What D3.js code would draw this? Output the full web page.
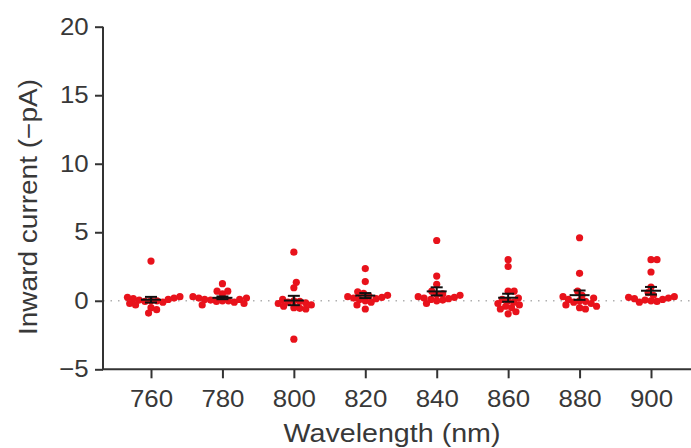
<!DOCTYPE html>
<html>
<head>
<meta charset="utf-8">
<script src="https://cdn.jsdelivr.net/npm/d3@7"></script>
<style>
  html, body { margin: 0; padding: 0; background: #fff; }
  svg { display: block; font-family: "Liberation Sans", Arial, sans-serif; }
</style>
</head>
<body>
<svg id="chart" width="691" height="448"></svg>
<script>
// ---- data ----
const categories = ["760", "780", "800", "820", "840", "860", "880", "900"];
const v760 = [2.9, 0.3, 0.25, 0.2, 0.15, 0.1, 0.05, 0, 0, -0.05, -0.1, -0.2, -0.3, -0.5, -0.65, -0.9];
const v780 = [1.25, 0.7, 0.7, 0.5, 0.3, 0.2, 0.2, 0.1, 0.1, 0.05, 0, 0, -0.05, -0.1, -0.2, -0.3];
const v800 = [3.55, 1.35, 0.95, 0.1, 0, -0.05, -0.1, -0.15, -0.2, -0.3, -0.4, -0.5, -0.55, -0.6, -2.8];
const v820 = [2.35, 1.4, 0.65, 0.55, 0.4, 0.35, 0.3, 0.25, 0.2, 0.15, 0.1, 0, -0.1, -0.3, -0.6];
const v840 = [4.4, 1.8, 1.2, 0.7, 0.5, 0.45, 0.4, 0.3, 0.25, 0.2, 0.15, 0.1, 0.05, 0, -0.2];
const v860 = [3.0, 2.5, 0.7, 0.7, 0.2, 0.1, 0, -0.1, -0.2, -0.3, -0.4, -0.5, -0.6, -0.8, -0.95];
const v880 = [4.6, 2.0, 0.7, 0.4, 0.3, 0.2, 0.1, 0, -0.05, -0.1, -0.2, -0.3, -0.4, -0.5, -0.6];
const v900 = [3.0, 3.0, 2.1, 1.0, 0.6, 0.4, 0.3, 0.25, 0.2, 0.15, 0.1, 0.05, 0, -0.05, -0.1];
const seriesValues = [v760, v780, v800, v820, v840, v860, v880, v900];
const yTickValues = [-5, 0, 5, 10, 15, 20];
const xTitle = "Wavelength (nm)";
const yTitle = "Inward current (\u2212pA)";

// ---- layout ----
const svg = d3.select("#chart");
const axisColor = "#333";
const textColor = "#383838";
const dotColor = "#e8121b";
const r = 3.6;

const y = d3.scaleLinear().domain([-5, 20]).range([369.3, 26.7]);
const x = d3.scalePoint().domain(categories).range([103, 699]).padding(0.672);

// zero reference (dotted)
svg.append("line")
  .attr("x1", 103).attr("x2", 691)
  .attr("y1", y(0)).attr("y2", y(0))
  .attr("stroke", "#b0b0b0").attr("stroke-width", 1.4)
  .attr("stroke-dasharray", "1.5,6");

// beeswarm offsets (dense, overlapping like the reference)
function swarm(values, minDist) {
  const order = values.map((v, i) => ({ v, i, py: y(v) }))
    .sort((a, b) => Math.abs(a.v) - Math.abs(b.v) || a.v - b.v);
  const placed = [];
  const d = minDist;
  order.forEach(p => {
    const cands = [0];
    placed.forEach(q => {
      const dy = p.py - q.py;
      if (Math.abs(dy) < d) {
        const dx = Math.sqrt(d * d - dy * dy);
        cands.push(q.dx + dx + 0.01, q.dx - dx - 0.01);
      }
    });
    cands.sort((a, b) => Math.abs(a) - Math.abs(b) || b - a);
    for (const c of cands) {
      const ok = placed.every(q => {
        const ddx = c - q.dx, ddy = p.py - q.py;
        return ddx * ddx + ddy * ddy >= d * d - 0.05;
      });
      if (ok) { p.dx = c; break; }
    }
    placed.push(p);
  });
  return placed;
}

categories.forEach((cat, gi) => {
  const vals = seriesValues[gi];
  const cx = x(cat);
  const pts = swarm(vals, 6);
  const g = svg.append("g");
  g.selectAll("circle").data(pts).join("circle")
    .attr("cx", p => cx + p.dx)
    .attr("cy", p => p.py)
    .attr("r", r)
    .attr("fill", dotColor);

  const mean = d3.mean(vals);
  const sem = d3.deviation(vals) / Math.sqrt(vals.length);
  const eb = svg.append("g").attr("stroke", "#111").attr("stroke-width", 2);
  eb.append("line").attr("x1", cx - 10).attr("x2", cx + 10).attr("y1", y(mean)).attr("y2", y(mean));
  eb.append("line").attr("x1", cx).attr("x2", cx).attr("y1", y(mean - sem)).attr("y2", y(mean + sem));
  eb.append("line").attr("x1", cx - 6).attr("x2", cx + 6).attr("y1", y(mean + sem)).attr("y2", y(mean + sem));
  eb.append("line").attr("x1", cx - 6).attr("x2", cx + 6).attr("y1", y(mean - sem)).attr("y2", y(mean - sem));
});

// axes
const yAxis = d3.axisLeft(y).tickValues(yTickValues).tickSize(8).tickSizeOuter(0).tickPadding(5);
const gy = svg.append("g").attr("transform", "translate(103,0)").call(yAxis);
const xAxis = d3.axisBottom(x).tickSize(9).tickSizeOuter(0).tickPadding(12);
const gx = svg.append("g").attr("transform", "translate(0,369.3)").call(xAxis);

[gy, gx].forEach(g => {
  g.select(".domain").attr("stroke", axisColor).attr("stroke-width", 2);
  g.selectAll(".tick line").attr("stroke", axisColor).attr("stroke-width", 2);
  g.selectAll(".tick text")
    .attr("fill", textColor)
    .style("font-size", "23.5px")
    .attr("transform", "scale(1.1,1)");
});
gx.select(".domain").attr("d", "M102,0H691");
gy.select(".domain").attr("d", "M0," + y(-5) + "V" + y(20));

// titles
svg.append("text")
  .attr("x", 392).attr("y", 441.5)
  .attr("text-anchor", "middle")
  .attr("fill", textColor)
  .style("font-size", "25.5px")
  .attr("textLength", 217).attr("lengthAdjust", "spacingAndGlyphs")
  .text(xTitle);

svg.append("text")
  .attr("transform", "translate(37,207) rotate(-90)")
  .attr("text-anchor", "middle")
  .attr("fill", textColor)
  .style("font-size", "25px")
  .attr("textLength", 256).attr("lengthAdjust", "spacingAndGlyphs")
  .text(yTitle);
</script>
</body>
</html>
